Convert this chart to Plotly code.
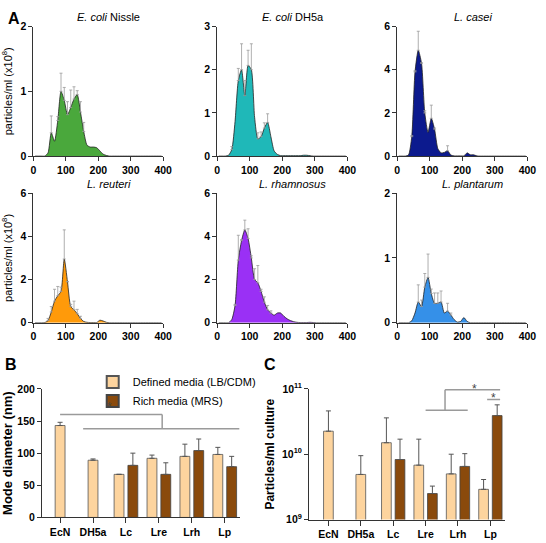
import plotly.graph_objects as go

# ---------------- DATA ----------------
bins = [5, 15, 25, 35, 45, 55, 65, 75, 85, 95, 105, 115, 125, 135, 145, 155, 165, 175, 185, 195,
        205, 215, 225, 235, 245, 255, 265, 275, 285, 295, 305, 315, 325, 335, 345, 355, 365, 375, 385, 395]

ecn_vals = [0, 0, 0, 0, 0.05, 0.36, 0.23, 0.55, 1.0, 0.86, 0.64, 0.75, 0.88, 0.95, 0.68, 0.38, 0.17, 0.14, 0.14, 0.13,
            0.08, 0.03, 0.01, 0, 0, 0, 0, 0, 0, 0, 0, 0, 0, 0, 0, 0, 0, 0, 0, 0]
dh5_vals = [0, 0, 0, 0.02, 0.15, 0.8, 1.75, 2.0, 1.4, 2.1, 2.0, 0.9, 0.4, 0.45, 0.65, 0.78, 0.45, 0.12, 0.04, 0.01,
            0.01, 0.01, 0.01, 0.01, 0.01, 0.01, 0.02, 0.02, 0.01, 0, 0, 0, 0, 0, 0, 0, 0, 0, 0, 0]
lc_vals = [0, 0, 0, 0.05, 0.9, 3.9, 4.9, 4.3, 2.0, 1.1, 1.75, 1.25, 0.35, 0.15, 0.17, 0.25, 0.05, 0.01, 0.01, 0.01,
           0.01, 0.15, 0.06, 0.06, 0.01, 0, 0, 0, 0, 0, 0, 0, 0, 0, 0, 0, 0, 0, 0, 0]
lre_vals = [0, 0, 0, 0.01, 0.1, 0.5, 1.0, 1.25, 1.45, 2.95, 1.9, 0.75, 0.6, 0.42, 0.2, 0.06, 0.02, 0.01, 0.01, 0.01,
            0.12, 0.08, 0.02, 0, 0, 0, 0, 0, 0, 0, 0, 0, 0, 0, 0, 0, 0, 0, 0, 0]
lrh_vals = [0, 0, 0, 0, 0.15, 0.8, 2.9, 3.8, 4.3, 3.9, 3.0, 2.0, 1.85, 1.45, 0.95, 0.6, 0.45, 0.35, 0.45, 0.45,
            0.3, 0.18, 0.1, 0.05, 0.02, 0.01, 0.01, 0.01, 0.02, 0.01, 0, 0, 0, 0, 0, 0, 0, 0, 0, 0]
lp_vals = [0, 0, 0, 0, 0.03, 0.15, 0.32, 0.25, 0.55, 0.7, 0.45, 0.3, 0.3, 0.32, 0.15, 0.18, 0.12, 0.05, 0.01, 0.02,
           0.08, 0.02, 0, 0, 0, 0, 0, 0, 0, 0, 0, 0, 0, 0, 0, 0, 0, 0, 0, 0]

# error-bar positions and upper whisker values (x10^8)
ecn_err_x = [55, 75, 85, 95, 105, 115, 125, 135, 145, 155]
ecn_err_top = [0.62, 0.61, 1.28, 1.06, 0.84, 1.02, 1.07, 1.01, 0.84, 0.52]
dh5_err_x = [45, 65, 75, 85, 95, 105, 125, 135, 145, 155]
dh5_err_top = [0.22, 2.03, 2.6, 1.75, 2.45, 2.6, 0.54, 0.56, 0.77, 0.98]
lc_err_x = [45, 55, 65, 75, 85, 105, 115, 155]
lc_err_top = [0.95, 3.95, 5.78, 4.32, 2.1, 2.36, 1.3, 0.48]
lre_err_x = [45, 55, 65, 75, 85, 95, 105, 115, 125, 135, 145]
lre_err_top = [0.2, 0.75, 1.55, 1.68, 1.65, 4.3, 1.6, 0.85, 1.0, 0.62, 0.3]
lrh_err_x = [55, 65, 75, 85, 95, 105, 115, 125, 135, 145, 155, 165]
lrh_err_top = [0.85, 4.05, 3.85, 4.75, 4.35, 3.1, 2.5, 2.65, 1.55, 1.2, 0.8, 0.55]
lp_err_x = [65, 75, 85, 95, 105, 115, 125, 135, 155, 165]
lp_err_top = [0.585, 0.35, 0.76, 1.06, 0.52, 0.46, 0.46, 0.49, 0.3, 0.15]

panel_titles = ["<i>E. coli</i> Nissle", "<i>E. coli</i> DH5a", "<i>L. casei</i>",
                "<i>L. reuteri</i>", "<i>L. rhamnosus</i>", "<i>L. plantarum</i>"]
panel_ymax = [2, 3, 6, 6, 6, 2]
panel_ytick = [1, 1, 2, 2, 2, 1]

# Panel B / C
strains = ["EcN", "DH5a", "Lc", "Lre", "Lrh", "Lp"]
ecoli_strains = ["EcN", "DH5a"]
lacto_strains = ["Lc", "Lre", "Lrh", "Lp"]

b_ecoli_defined = [143, 89]
b_ecoli_defined_err = [5, 2]
b_lacto_defined = [67, 92, 95, 98]
b_lacto_defined_err = [0, 5, 19, 11]
b_lacto_rich = [81, 67, 104, 79]
b_lacto_rich_err = [19, 18, 18, 16]

c_ecoli_defined = [2.25e10, 4.9e9]
c_ecoli_defined_top = [4.6e10, 9.5e9]
c_lacto_defined = [1.5e10, 6.8e9, 5.0e9, 2.9e9]
c_lacto_defined_top = [3.6e10, 1.7e10, 1.0e10, 4.1e9]
c_lacto_rich = [8.3e9, 2.5e9, 6.5e9, 3.9e10]
c_lacto_rich_top = [1.7e10, 3.25e9, 1.02e10, 5.7e10]

# ---------------- FIGURE ----------------
FONT = "Arial, Liberation Sans, sans-serif"
colors = ["#4aa83c", "#1fb8b8", "#0c1a8e", "#ff9a0a", "#9a30f5", "#3590e8"]
LIGHT = "#fdd49e"
DARK = "#8a4a0c"

vals_all = [ecn_vals, dh5_vals, lc_vals, lre_vals, lrh_vals, lp_vals]
errx_all = [ecn_err_x, dh5_err_x, lc_err_x, lre_err_x, lrh_err_x, lp_err_x]
errt_all = [ecn_err_top, dh5_err_top, lc_err_top, lre_err_top, lrh_err_top, lp_err_top]

fig = go.Figure()

xdoms = [[0.057, 0.300], [0.401, 0.645], [0.738, 0.982]]
ydoms = [[0.720, 0.965], [0.405, 0.650]]

axis_common = dict(showline=True, linecolor="#333", linewidth=1, ticks="outside", ticklen=4,
                   tickcolor="#333", showgrid=False, zeroline=False,
                   tickfont=dict(family=FONT, size=10.5, color="black", weight=700))

layout_axes = {}
annotations = []
for i in range(6):
    n = i + 1
    xa = "x" if n == 1 else f"x{n}"
    ya = "y" if n == 1 else f"y{n}"
    vals = vals_all[i]
    fig.add_trace(go.Scatter(x=bins, y=vals, mode="lines", fill="tozeroy", fillcolor=colors[i],
                             line=dict(color="#222", width=0.8, shape="spline", smoothing=0.6),
                             xaxis=xa, yaxis=ya, showlegend=False, hoverinfo="skip"))
    lookup = dict(zip(bins, vals))
    base = [lookup[x] for x in errx_all[i]]
    plus = [max(t - b, 0) for t, b in zip(errt_all[i], base)]
    fig.add_trace(go.Scatter(x=errx_all[i], y=base, mode="markers", marker=dict(size=0.1, color="rgba(0,0,0,0)"),
                             error_y=dict(type="data", array=plus, arrayminus=[0] * len(plus), symmetric=False,
                                          color="#9a9a9a", thickness=0.8, width=1.5),
                             xaxis=xa, yaxis=ya, showlegend=False, hoverinfo="skip"))
    row, col = divmod(i, 3)
    xkey = "xaxis" if n == 1 else f"xaxis{n}"
    ykey = "yaxis" if n == 1 else f"yaxis{n}"
    layout_axes[xkey] = dict(axis_common, domain=xdoms[col], anchor=ya, range=[0, 400],
                             tickvals=[0, 100, 200, 300, 400])
    ydict = dict(axis_common, domain=ydoms[row], anchor=xa, range=[0, panel_ymax[i]],
                 dtick=panel_ytick[i], tick0=0)
    if col == 0:
        ydict["title"] = dict(text="particles/ml (x10<sup>8</sup>)",
                              font=dict(family=FONT, size=11, color="black"), standoff=6)
    layout_axes[ykey] = ydict
    xd = xdoms[col]
    annotations.append(dict(text=panel_titles[i], xref="paper", yref="paper",
                            x=(xd[0] + xd[1]) / 2 + 0.02, y=ydoms[row][1] + 0.002,
                            xanchor="center", yanchor="bottom", showarrow=False,
                            font=dict(family=FONT, size=11, color="black")))

# ---- Panel B ----
BW = 0.3
fig.add_trace(go.Bar(x=ecoli_strains, y=b_ecoli_defined, width=BW, offset=-BW / 2,
                     marker=dict(color=LIGHT, line=dict(color="#555", width=0.8)),
                     error_y=dict(type="data", array=b_ecoli_defined_err, arrayminus=[0, 0], symmetric=False,
                                  color="#555", thickness=1, width=2.5),
                     xaxis="x7", yaxis="y7", showlegend=False))
fig.add_trace(go.Bar(x=lacto_strains, y=b_lacto_defined, width=BW, offset=-0.36, name="Defined media (LB/CDM)",
                     marker=dict(color=LIGHT, line=dict(color="#555", width=0.8)),
                     error_y=dict(type="data", array=b_lacto_defined_err, arrayminus=[0] * 4, symmetric=False,
                                  color="#555", thickness=1, width=2.5),
                     xaxis="x7", yaxis="y7", showlegend=True))
fig.add_trace(go.Bar(x=lacto_strains, y=b_lacto_rich, width=BW, offset=0.06, name="Rich media (MRS)",
                     marker=dict(color=DARK, line=dict(color="#444", width=0.8)),
                     error_y=dict(type="data", array=b_lacto_rich_err, arrayminus=[0] * 4, symmetric=False,
                                  color="#555", thickness=1, width=2.5),
                     xaxis="x7", yaxis="y7", showlegend=True))

# ---- Panel C ----
def plus_err(vals, tops):
    return [t - v for v, t in zip(vals, tops)]

fig.add_trace(go.Bar(x=ecoli_strains, y=c_ecoli_defined, width=BW, offset=-BW / 2,
                     marker=dict(color=LIGHT, line=dict(color="#555", width=0.8)),
                     error_y=dict(type="data", array=plus_err(c_ecoli_defined, c_ecoli_defined_top),
                                  arrayminus=[0, 0], symmetric=False, color="#555", thickness=1, width=2.5),
                     xaxis="x8", yaxis="y8", showlegend=False))
fig.add_trace(go.Bar(x=lacto_strains, y=c_lacto_defined, width=BW, offset=-0.36,
                     marker=dict(color=LIGHT, line=dict(color="#555", width=0.8)),
                     error_y=dict(type="data", array=plus_err(c_lacto_defined, c_lacto_defined_top),
                                  arrayminus=[0] * 4, symmetric=False, color="#555", thickness=1, width=2.5),
                     xaxis="x8", yaxis="y8", showlegend=False))
fig.add_trace(go.Bar(x=lacto_strains, y=c_lacto_rich, width=BW, offset=0.06,
                     marker=dict(color=DARK, line=dict(color="#444", width=0.8)),
                     error_y=dict(type="data", array=plus_err(c_lacto_rich, c_lacto_rich_top),
                                  arrayminus=[0] * 4, symmetric=False, color="#555", thickness=1, width=2.5),
                     xaxis="x8", yaxis="y8", showlegend=False))

layout_axes["xaxis7"] = dict(axis_common, domain=[0.073, 0.443], anchor="y7", type="category",
                             categoryorder="array", categoryarray=strains, range=[-0.55, 5.45], ticklen=5)
layout_axes["yaxis7"] = dict(axis_common, domain=[0.037, 0.280], anchor="x7", range=[0, 200], dtick=50,
                             title=dict(text="<b>Mode diameter (nm)</b>", font=dict(family=FONT, size=13, color="black"),
                                        standoff=4))
layout_axes["xaxis8"] = dict(axis_common, domain=[0.573, 0.940], anchor="y8", type="category",
                             categoryorder="array", categoryarray=strains, range=[-0.6, 5.45], ticklen=5)
layout_axes["yaxis8"] = dict(axis_common, domain=[0.033, 0.280], anchor="x8", type="log", range=[9, 11],
                             tickvals=[1e9, 1e10, 1e11],
                             ticktext=["10<sup>9</sup>", "10<sup>10</sup>", "10<sup>11</sup>"],
                             title=dict(text="<b>Particles/ml culture</b>", font=dict(family=FONT, size=12, color="black"),
                                        standoff=4))

SIG = dict(color="#9a9a9a", width=1.5)
shapes = [
    # B
    dict(type="line", xref="x7", yref="y7", x0=0, x1=3.1, y0=160, y1=160, line=SIG),
    dict(type="line", xref="x7", yref="y7", x0=3.1, x1=3.1, y0=160, y1=138, line=SIG),
    dict(type="line", xref="x7", yref="y7", x0=0.7, x1=5.45, y0=138, y1=138, line=SIG),
    # C
    dict(type="line", xref="x8", yref="y8", x0=3.0, x1=4.3, y0=4.7e10, y1=4.7e10, line=SIG),
    dict(type="line", xref="x8", yref="y8", x0=3.6, x1=3.6, y0=4.7e10, y1=9.7e10, line=SIG),
    dict(type="line", xref="x8", yref="y8", x0=3.6, x1=5.3, y0=9.7e10, y1=9.7e10, line=SIG),
    dict(type="line", xref="x8", yref="y8", x0=4.9, x1=5.3, y0=6.85e10, y1=6.85e10, line=SIG),
]
annotations += [
    dict(text="*", xref="x7", yref="y7", x=1.5, y=158, yanchor="bottom", showarrow=False,
         font=dict(family=FONT, size=12, color="#444")),
    dict(text="*", xref="x8", yref="y8", x=4.5, y=11.0, yanchor="middle", showarrow=False,
         font=dict(family=FONT, size=12, color="#444")),
    dict(text="*", xref="x8", yref="y8", x=5.1, y=10.86, yanchor="middle", showarrow=False,
         font=dict(family=FONT, size=12, color="#444")),
    dict(text="<b>A</b>", xref="paper", yref="paper", x=0.005, y=1.0, xanchor="left", yanchor="top",
         showarrow=False, font=dict(family=FONT, size=16, color="black")),
    dict(text="<b>B</b>", xref="paper", yref="paper", x=0.0, y=1 - 355 / 543, xanchor="left", yanchor="top",
         showarrow=False, font=dict(family=FONT, size=16, color="black")),
    dict(text="<b>C</b>", xref="paper", yref="paper", x=0.485, y=1 - 355 / 543, xanchor="left", yanchor="top",
         showarrow=False, font=dict(family=FONT, size=16, color="black")),
]

fig.update_layout(
    width=546, height=543, margin=dict(l=0, r=0, t=0, b=0),
    paper_bgcolor="white", plot_bgcolor="white",
    barmode="overlay",
    font=dict(family=FONT, color="black"),
    legend=dict(x=0.168, y=1 - 369 / 543, xanchor="left", yanchor="top", bgcolor="rgba(0,0,0,0)",
                font=dict(family=FONT, size=11, color="black"), itemsizing="constant", tracegroupgap=0),
    shapes=shapes, annotations=annotations,
    **layout_axes,
)

fig.write_html("out.html")
